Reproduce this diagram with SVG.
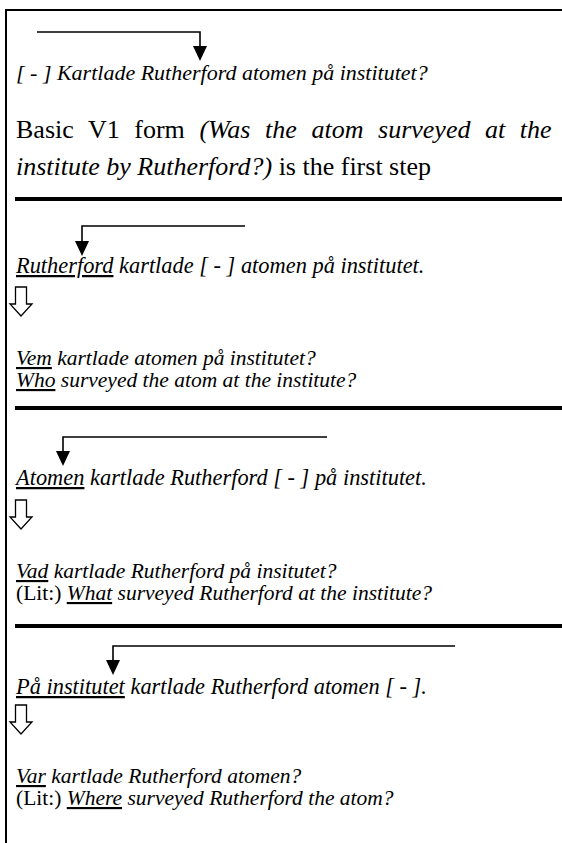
<svg xmlns="http://www.w3.org/2000/svg" width="562" height="843" viewBox="0 0 562 843">
<style>
  .s { font-family: "Liberation Serif", "Times New Roman", serif; font-style: italic; font-size: 22.4px; fill: #000; }
  .t { font-size: 22px; }
  .q { font-family: "Liberation Serif", "Times New Roman", serif; font-style: italic; font-size: 21.5px; fill: #000; }
  .b { font-family: "Liberation Serif", "Times New Roman", serif; font-size: 26px; fill: #000; }
  .up { font-style: normal; }
  .u { text-decoration: underline; }
  .sep { stroke: #000; stroke-width: 4; }
  .conn { fill: none; stroke: #000; stroke-width: 1.6; }
  .hollow { fill: #fff; stroke: #000; stroke-width: 1.3; stroke-linejoin: miter; }
</style>
<defs>
  <marker id="ah" markerUnits="userSpaceOnUse" markerWidth="15" markerHeight="14" viewBox="0 0 15 14" refX="0" refY="7" orient="auto">
    <path d="M0,0 L15,7 L0,14 Z" fill="#000"/>
  </marker>
  <path id="hol" d="M-5.5,0 H5.5 V17 H11 L0,29 L-11,17 H-5.5 Z"/>
</defs>
<rect width="562" height="843" fill="#fff"/>
<g id="frame">
  <path d="M6,843 V10 H562" fill="none" stroke="#000" stroke-width="2"/>
  <line class="sep" x1="15" y1="199" x2="562" y2="199"/>
  <line class="sep" x1="15" y1="408" x2="562" y2="408"/>
  <line class="sep" x1="15" y1="626" x2="562" y2="626"/>
</g>
<g id="connectors">
  <path class="conn" d="M37,32 H200 V46" style="marker-end:url(#ah)"/>
  <path class="conn" d="M245,226 H82 V241" style="marker-end:url(#ah)"/>
  <path class="conn" d="M327,437 H63 V451" style="marker-end:url(#ah)"/>
  <path class="conn" d="M455,646 H113 V660" style="marker-end:url(#ah)"/>
  <use href="#hol" class="hollow" x="21" y="287"/>
  <use href="#hol" class="hollow" x="21" y="500"/>
  <use href="#hol" class="hollow" x="21" y="705"/>
</g>
<g id="step1">
  <text class="s t" x="16" y="80">[ - ] Kartlade Rutherford atomen på institutet?</text>
  <text class="b" x="16" y="138" word-spacing="8.1">Basic V1 form <tspan font-style="italic">(Was the atom surveyed at the</tspan></text>
  <text class="b" x="16" y="175"><tspan font-style="italic">institute by Rutherford?)</tspan> is the first step</text>
</g>
<g id="step2">
  <text class="s" x="16" y="273"><tspan class="u">Rutherford</tspan> kartlade [ - ] atomen på institutet.</text>
  <text class="q" x="16" y="365"><tspan class="u">Vem</tspan> kartlade atomen på institutet?</text>
  <text class="q" x="16" y="387"><tspan class="u">Who</tspan> surveyed the atom at the institute?</text>
</g>
<g id="step3">
  <text class="s" x="16" y="485"><tspan class="u">Atomen</tspan> kartlade Rutherford [ - ] på institutet.</text>
  <text class="q" x="16" y="578"><tspan class="u">Vad</tspan> kartlade Rutherford på insitutet?</text>
  <text class="q" x="16" y="600"><tspan class="up">(Lit:)</tspan> <tspan class="u">What</tspan> surveyed Rutherford at the institute?</text>
</g>
<g id="step4">
  <text class="s" x="16" y="694"><tspan class="u">På institutet</tspan> kartlade Rutherford atomen [ - ].</text>
  <text class="q" x="16" y="783"><tspan class="u">Var</tspan> kartlade Rutherford atomen?</text>
  <text class="q" x="16" y="805"><tspan class="up">(Lit:)</tspan> <tspan class="u">Where</tspan> surveyed Rutherford the atom?</text>
</g>
</svg>
